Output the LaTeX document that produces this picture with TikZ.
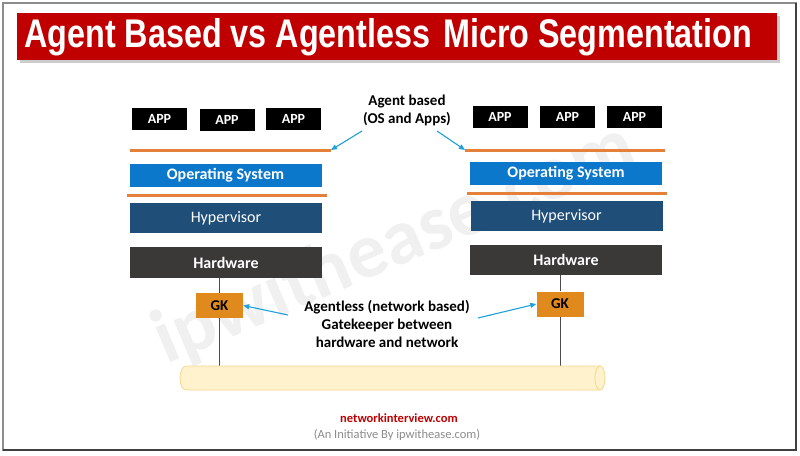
\documentclass[tikz,border=0pt]{standalone}
\usepackage{fontspec}
\setmainfont{Carlito}
\newfontfamily\titlefont{Liberation Sans}
\usetikzlibrary{arrows.meta,shapes.geometric}
\definecolor{titlered}{HTML}{C00000}
\definecolor{osblue}{HTML}{0B78CC}
\definecolor{hvblue}{HTML}{1F4E79}
\definecolor{hwgray}{HTML}{3B3838}
\definecolor{orangeln}{HTML}{E4803A}
\definecolor{gkorange}{HTML}{E08A1E}
\definecolor{arrblue}{HTML}{1EA0DC}
\definecolor{tubefill}{HTML}{FFF2CC}
\definecolor{tubeedge}{HTML}{F2D98C}
\definecolor{wmgray}{HTML}{F0F0F0}
\definecolor{footred}{HTML}{C00000}
\definecolor{footgray}{HTML}{8C8C8C}
\tikzset{
  appbox/.style={fill=black,text=white,font=\fontsize{14}{14}\selectfont\bfseries,inner sep=0pt,minimum width=55pt,minimum height=22pt},
  layerbox/.style={text=white,inner sep=0pt,minimum width=192pt},
  gkbox/.style={fill=gkorange,font=\fontsize{15}{15}\selectfont\bfseries,inner sep=0pt,minimum width=47pt,minimum height=25pt},
  sepline/.style={orangeln,line width=3pt},
  callout/.style={arrblue,line width=1.1pt,-{Triangle[length=6pt,width=5pt]}},
  wire/.style={black!70,line width=1pt},
  lbl/.style={font=\fontsize{15}{18}\selectfont\bfseries,align=center,inner sep=0pt}
}
\begin{document}
\begin{tikzpicture}[x=1pt,y=-1pt]
\useasboundingbox (0,0) rectangle (800,455);
\fill[white] (0,0) rectangle (800,455);
% outer frame
\draw[black!45,line width=1.5pt] (3,3) rectangle (796,450);
\draw[black!75,line width=2pt] (3,450) -- (796,450) -- (796,3);
% watermark
\node[text=wmgray,rotate=23,font=\fontsize{78}{78}\selectfont\bfseries] (wm) at (395,245) {ipwithease.com};
% title banner
\fill[black!20] (20,16) rectangle (780,63);
\node[fill=titlered,minimum width=760pt,minimum height=47pt,inner sep=0pt,anchor=north west] (title) at (17,13) {};
\node[text=white,anchor=west,inner sep=0pt] (titletxt) at (24,37) {\resizebox{728pt}{\height}{\titlefont\fontsize{40}{40}\selectfont\bfseries Agent Based vs Agentless\hspace{0.4em}Micro Segmentation}};
% left stack
\node[appbox] (la1) at (159.5,119) {APP};
\node[appbox] (la2) at (227,119.5) {APP};
\node[appbox] (la3) at (293.5,119) {APP};
\coordinate (lo1a) at (130,150); \coordinate (lo1b) at (331,150);
\draw[sepline] (lo1a) -- (lo1b);
\node[layerbox,fill=osblue,minimum height=23pt,font=\fontsize{16}{16}\selectfont\bfseries] (los) at (225.5,175.5) {Operating System};
\coordinate (lo2a) at (127,195); \coordinate (lo2b) at (327,195);
\draw[sepline] (lo2a) -- (lo2b);
\node[layerbox,fill=hvblue,minimum height=30pt,font=\fontsize{16}{16}\selectfont] (lhv) at (226,218) {Hypervisor};
\node[layerbox,fill=hwgray,minimum height=31pt,font=\fontsize{16}{16}\selectfont\bfseries] (lhw) at (226,262.5) {Hardware};
\node[gkbox] (lgk) at (219.5,305.5) {GK};
\coordinate (lwireb) at (219.5,366);
% right stack
\node[appbox] (ra1) at (500,116.5) {APP};
\node[appbox] (ra2) at (567.5,117) {APP};
\node[appbox] (ra3) at (634.5,116.5) {APP};
\coordinate (ro1a) at (465,150); \coordinate (ro1b) at (665,150);
\draw[sepline] (ro1a) -- (ro1b);
\node[layerbox,fill=osblue,minimum height=23pt,font=\fontsize{16}{16}\selectfont\bfseries] (ros) at (566,173.5) {Operating System};
\coordinate (ro2a) at (467,193); \coordinate (ro2b) at (667,193);
\draw[sepline] (ro2a) -- (ro2b);
\node[layerbox,fill=hvblue,minimum height=30pt,font=\fontsize{16}{16}\selectfont] (rhv) at (566.5,216) {Hypervisor};
\node[layerbox,fill=hwgray,minimum height=30pt,font=\fontsize{16}{16}\selectfont\bfseries] (rhw) at (566,260) {Hardware};
\node[gkbox] (rgk) at (560,304) {GK};
\coordinate (rwireb) at (560,366);
% wires
\draw[wire] (lhw.south -| lgk.north) -- (lgk.north);
\draw[wire] (lgk.south) -- (lwireb);
\draw[wire] (rhw.south -| rgk.north) -- (rgk.north);
\draw[wire] (rgk.south) -- (rwireb);
% network tube
\fill[tubefill] (185,366) rectangle (600,390);
\draw[tubeedge,line width=0.8pt,fill=tubefill] (600,366) -- (186,366) arc[start angle=90,end angle=270,x radius=6,y radius=-12] -- (600,390);
\draw[tubeedge,line width=0.8pt,fill=tubefill] (600,378) ellipse[x radius=5,y radius=12];
% labels
\node[lbl] (agent) at (407,110) {Agent based\\(OS and Apps)};
\coordinate (agl) at (362,131); \coordinate (agr) at (437,131);
\draw[callout] (agl) -- (lo1b);
\draw[callout] (agr) -- (ro1a);
\node[lbl] (agentless) at (387,324) {Agentless (network based)\\Gatekeeper between\\hardware and network};
\coordinate (all) at (288,315); \coordinate (alr) at (478,318);
\draw[callout] (all) -- (lgk.east);
\draw[callout] (alr) -- (rgk.west);
% footer
\node[text=footred,font=\fontsize{12.5}{12.5}\selectfont\bfseries] (foot1) at (399,418) {networkinterview.com};
\node[text=footgray,font=\fontsize{12.5}{12.5}\selectfont] (foot2) at (397,435) {(An Initiative By ipwithease.com)};
\end{tikzpicture}
\end{document}
